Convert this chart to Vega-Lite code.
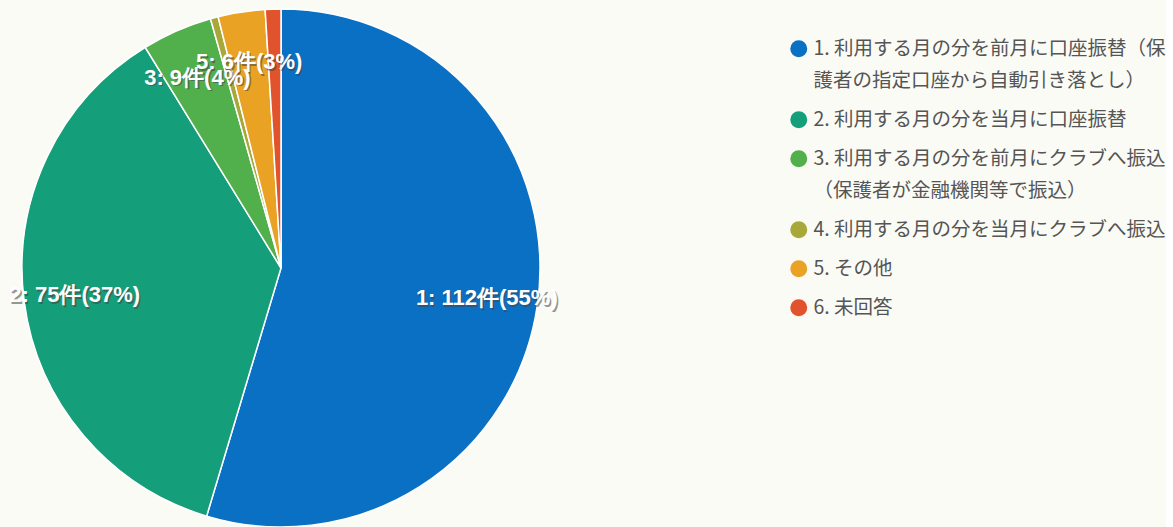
{
  "$schema": "https://vega.github.io/schema/vega-lite/v6.json",
  "width": 562,
  "height": 536,
  "autosize": {"type": "pad"},
  "padding": 0,
  "background": "#fbfbf5",
  "view": {"stroke": null},
  "config": {"style": {"guide-label": {"lineHeight": 32}}},
  "data": {
    "values": [
      {"id": 1, "category": "1. 利用する月の分を前月に口座振替（保護者の指定口座から自動引き落とし）", "count": 112, "label": "1: 112件(55%)"},
      {"id": 2, "category": "2. 利用する月の分を当月に口座振替", "count": 75, "label": "2: 75件(37%)"},
      {"id": 3, "category": "3. 利用する月の分を前月にクラブへ振込（保護者が金融機関等で振込）", "count": 9, "label": "3: 9件(4%)"},
      {"id": 4, "category": "4. 利用する月の分を当月にクラブへ振込", "count": 1, "label": ""},
      {"id": 5, "category": "5. その他", "count": 6, "label": "5: 6件(3%)"},
      {"id": 6, "category": "6. 未回答", "count": 2, "label": ""}
    ]
  },
  "encoding": {
    "theta": {"field": "count", "type": "quantitative", "stack": true},
    "order": {"field": "id", "type": "quantitative"}
  },
  "layer": [
    {
      "mark": {"type": "arc", "radius": 259, "stroke": "#ffffff", "strokeWidth": 1.5},
      "encoding": {
        "color": {
          "field": "category",
          "type": "nominal",
          "scale": {"range": ["#0a70c4", "#159e7a", "#52b04c", "#a8a83a", "#e9a224", "#e0532c"]},
          "legend": {
            "orient": "none",
            "legendX": 789,
            "legendY": 39,
            "title": null,
            "padding": 0,
            "symbolType": "circle",
            "symbolSize": 289,
            "symbolStrokeWidth": 0,
            "symbolOpacity": 1,
            "labelFont": "Noto Sans CJK JP",
            "labelFontSize": 19.5,
            "labelColor": "#555555",
            "labelOffset": 5,
            "labelLimit": 420,
            "rowPadding": 18,
            "labelExpr": "length(datum.label) > 20 ? [substring(datum.label, 0, 20), substring(datum.label, 20)] : datum.label"
          }
        }
      }
    },
    {
      "mark": {"type": "text", "radius": 208, "dx": 1.5, "dy": 1.5, "font": "Liberation Sans", "fontWeight": "bold", "fontSize": 22, "fill": "#444444", "opacity": 0.55},
      "encoding": {"text": {"field": "label"}}
    },
    {
      "mark": {"type": "text", "radius": 208, "font": "Liberation Sans", "fontWeight": "bold", "fontSize": 22, "fill": "#ffffff"},
      "encoding": {"text": {"field": "label"}}
    }
  ]
}
